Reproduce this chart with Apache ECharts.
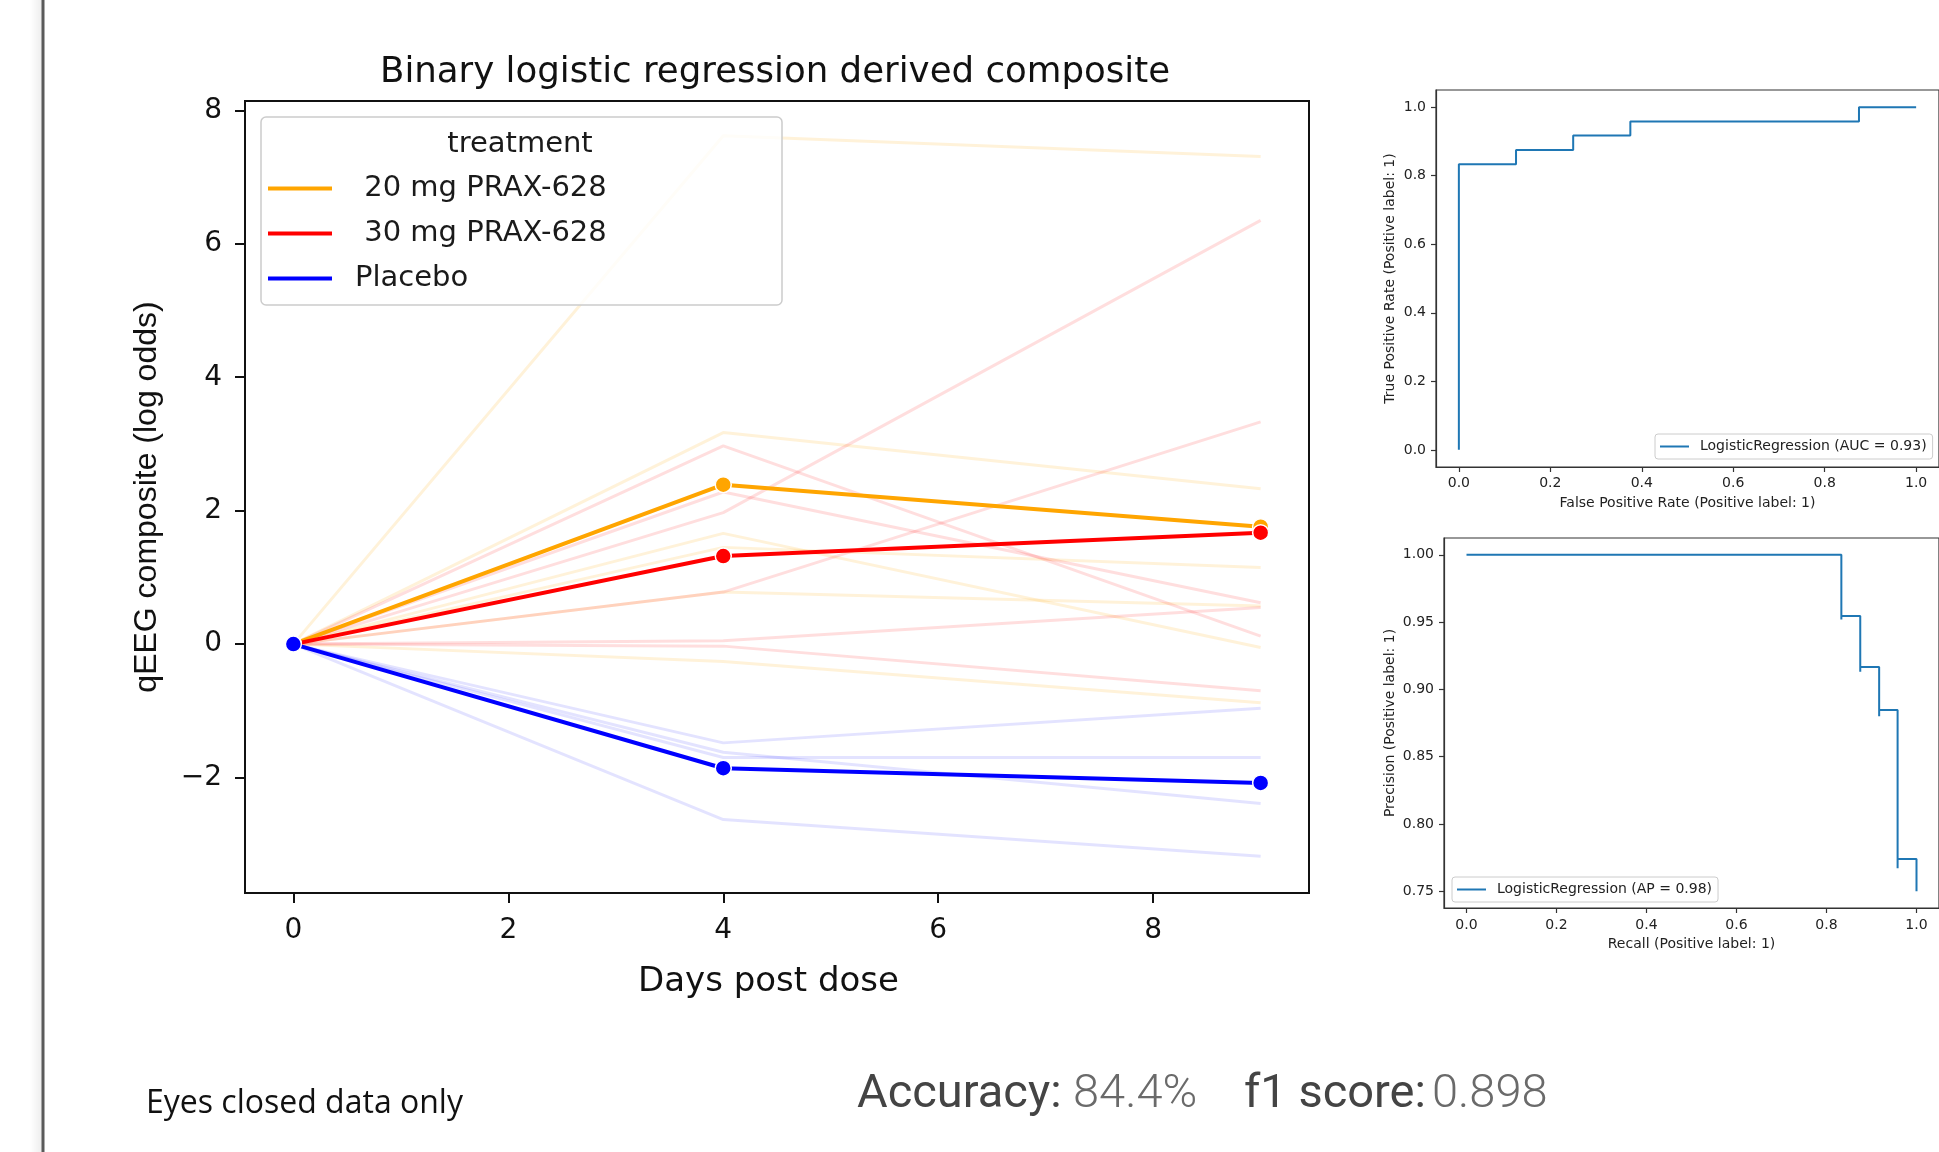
<!DOCTYPE html>
<html><head><meta charset="utf-8">
<script src="https://cdn.jsdelivr.net/npm/echarts@6/dist/echarts.min.js"></script>
<style>html,body{margin:0;padding:0;background:#fff}#c{width:1939px;height:1152px}</style>
</head><body><div id="c"></div>
<script>
// ---- data ----
const days = [0, 4, 9];
const xTicks = [0, 2, 4, 6, 8];
const yTicks = [-2, 0, 2, 4, 6, 8];
const groupNames = [' 20 mg PRAX-628', ' 30 mg PRAX-628', 'Placebo'];
const mean20 = [0, 2.39, 1.76];
const mean30 = [0, 1.32, 1.67];
const meanPlacebo = [0, -1.86, -2.08];
const subj20 = [[0, 7.62, 7.31], [0, 3.17, 2.33], [0, 1.66, -0.05], [0, 1.45, 1.15], [0, 0.78, 0.57], [0, -0.26, -0.88]];
const subj30 = [[0, 2.97, 0.12], [0, 2.28, 0.62], [0, 1.97, 6.35], [0, 0.78, 3.33], [0, 0.05, 0.55], [0, -0.03, -0.70]];
const subjPlacebo = [[0, -1.48, -0.96], [0, -1.70, -1.70], [0, -1.62, -2.39], [0, -2.63, -3.18]];

const rocTicks = [0, 0.2, 0.4, 0.6, 0.8, 1.0];
const rocFpr = [0, 0, 0.125, 0.125, 0.25, 0.25, 0.375, 0.375, 0.875, 0.875, 1.0];
const rocTpr = [0, 0.833, 0.833, 0.875, 0.875, 0.917, 0.917, 0.958, 0.958, 1.0, 1.0];
const rocName = 'LogisticRegression (AUC = 0.93)';

const prYTicks = [0.75, 0.80, 0.85, 0.90, 0.95, 1.00];
const prRecall = [0, 0.833, 0.833, 0.833, 0.875, 0.875, 0.875, 0.917, 0.917, 0.917, 0.958, 0.958, 0.958, 1.0, 1.0];
const prPrecision = [1.0, 1.0, 0.952, 0.9545, 0.9545, 0.913, 0.9167, 0.9167, 0.88, 0.8846, 0.8846, 0.767, 0.774, 0.774, 0.75];
const prName = 'LogisticRegression (AP = 0.98)';

// ---- chart ----
const chart = echarts.init(document.getElementById('c'), null, {renderer: 'canvas'});
const pairs = (xs, ys) => xs.map((x, i) => [x, ys[i]]);
const minus = v => (v < 0 ? '\u2212' + Math.abs(v) : String(v));
const FONT = 'DejaVu Sans';

const series = [];
function addSubjects(list, color, tag) {
  list.forEach((vals, i) => series.push({
    name: tag + ' subject ' + (i + 1), type: 'line', xAxisIndex: 0, yAxisIndex: 0,
    data: pairs(days, vals), symbol: 'none', silent: true, z: 1,
    lineStyle: {color: color, width: 3}, itemStyle: {color: color}
  }));
}
addSubjects(subj20, 'rgba(255,165,0,0.15)', '20mg');
addSubjects(subj30, 'rgba(255,0,0,0.13)', '30mg');
addSubjects(subjPlacebo, 'rgba(0,0,255,0.11)', 'pbo');

function addMean(name, vals, color, z) {
  series.push({
    name: name, type: 'line', xAxisIndex: 0, yAxisIndex: 0, data: pairs(days, vals),
    color: color, z: z, symbol: 'circle', symbolSize: 16, showSymbol: true,
    lineStyle: {color: color, width: 4},
    itemStyle: {color: color, borderColor: '#ffffff', borderWidth: 1.5}
  });
}
addMean(groupNames[0], mean20, '#FFA500', 3);
addMean(groupNames[1], mean30, '#FF0000', 4);
addMean(groupNames[2], meanPlacebo, '#0000FF', 5);

series.push({name: rocName, type: 'line', xAxisIndex: 1, yAxisIndex: 1, data: pairs(rocFpr, rocTpr),
  symbol: 'none', color: '#1f77b4', lineStyle: {color: '#1f77b4', width: 2}});
series.push({name: prName, type: 'line', xAxisIndex: 2, yAxisIndex: 2, data: pairs(prRecall, prPrecision),
  symbol: 'none', color: '#1f77b4', lineStyle: {color: '#1f77b4', width: 2}});

function smallX(idx, name, nameGap, margin) {
  return {gridIndex: idx, type: 'value', min: -0.05, max: 1.05,
    axisLine: {show: true, onZero: false, lineStyle: {color: '#333', width: 1.2}},
    axisTick: {show: true, length: 5, customValues: rocTicks, lineStyle: {color: '#333', width: 1.2}},
    axisLabel: {customValues: rocTicks, formatter: v => v.toFixed(1), margin: margin, fontSize: 14, fontFamily: FONT, color: '#222'},
    splitLine: {show: false}, name: name, nameLocation: 'middle', nameGap: nameGap,
    nameTextStyle: {fontSize: 14, fontFamily: FONT, color: '#222'}};
}
function smallY(idx, min, max, ticks, dec, name, nameGap) {
  return {gridIndex: idx, type: 'value', min: min, max: max,
    axisLine: {show: true, onZero: false, lineStyle: {color: '#333', width: 1.2}},
    axisTick: {show: true, length: 5, customValues: ticks, lineStyle: {color: '#333', width: 1.2}},
    axisLabel: {customValues: ticks, formatter: v => v.toFixed(dec), margin: 10, fontSize: 14, fontFamily: FONT, color: '#222'},
    splitLine: {show: false}, name: name, nameLocation: 'middle', nameGap: nameGap,
    nameTextStyle: {fontSize: 14, fontFamily: FONT, color: '#222'}};
}

const option = {
  animation: false,
  backgroundColor: '#ffffff',
  title: {
    text: 'Binary logistic regression derived composite', left: 775, top: 55, padding: 0,
    textAlign: 'center',
    textStyle: {fontSize: 35.6, fontWeight: 'normal', fontFamily: FONT, color: '#111'}
  },
  grid: [
    {left: 245, top: 101, width: 1064, height: 792, show: true, borderColor: '#111', borderWidth: 2, backgroundColor: 'transparent'},
    {left: 1436, top: 90, width: 506, height: 377, show: true, borderColor: '#333', borderWidth: 1.2, backgroundColor: 'transparent'},
    {left: 1444, top: 538, width: 497, height: 370, show: true, borderColor: '#333', borderWidth: 1.2, backgroundColor: 'transparent'}
  ],
  xAxis: [
    {gridIndex: 0, type: 'value', min: -0.45, max: 9.45,
      axisLine: {show: true, onZero: false, lineStyle: {color: '#111', width: 2}},
      axisTick: {show: true, length: 10, customValues: xTicks, lineStyle: {color: '#111', width: 2}},
      axisLabel: {customValues: xTicks, margin: 24, fontSize: 28, fontFamily: FONT, color: '#111'},
      splitLine: {show: false}, name: 'Days post dose', nameLocation: 'middle', nameGap: 72,
      nameTextStyle: {fontSize: 34, fontFamily: FONT, color: '#111', padding: [0, 17, 0, 0]}},
    smallX(1, 'False Positive Rate (Positive label: 1)', 29, 9),
    smallX(2, 'Recall (Positive label: 1)', 29, 10)
  ],
  yAxis: [
    {gridIndex: 0, type: 'value', min: -3.73, max: 8.14,
      axisLine: {show: true, onZero: false, lineStyle: {color: '#111', width: 2}},
      axisTick: {show: true, length: 10, customValues: yTicks, lineStyle: {color: '#111', width: 2}},
      axisLabel: {customValues: yTicks, formatter: minus, margin: 23, fontSize: 28, fontFamily: FONT, color: '#111', padding: [5, 0, 0, 0]},
      splitLine: {show: false}, name: 'qEEG composite (log odds)', nameLocation: 'middle', nameGap: 82,
      nameTextStyle: {fontSize: 32, fontFamily: 'Liberation Sans', color: '#111'}},
    smallY(1, -0.05, 1.05, rocTicks, 1, 'True Positive Rate (Positive label: 1)', 39),
    smallY(2, 0.7375, 1.0125, prYTicks, 2, 'Precision (Positive label: 1)', 47)
  ],
  legend: [
    {data: groupNames, orient: 'vertical', left: 268, top: 173.5, padding: 0, z: 10,
      icon: 'rect', itemWidth: 64, itemHeight: 4, itemGap: 15, selectedMode: false,
      itemStyle: {borderWidth: 0},
      textStyle: {fontSize: 29, lineHeight: 30, fontFamily: FONT, color: '#1a1a1a', padding: [0, 0, 0, 18]}},
    {data: [rocName], left: 1655, top: 434, padding: [5.5, 6, 5.5, 5], z: 10,
      icon: 'rect', itemWidth: 29, itemHeight: 2, selectedMode: false, itemStyle: {borderWidth: 0},
      backgroundColor: '#ffffff', borderColor: '#cccccc', borderWidth: 1, borderRadius: 3,
      textStyle: {fontSize: 14, lineHeight: 14, fontFamily: FONT, color: '#222', padding: [0, 0, 0, 6]}},
    {data: [prName], left: 1452, top: 877, padding: [5.5, 6, 5.5, 5], z: 10,
      icon: 'rect', itemWidth: 29, itemHeight: 2, selectedMode: false, itemStyle: {borderWidth: 0},
      backgroundColor: '#ffffff', borderColor: '#cccccc', borderWidth: 1, borderRadius: 3,
      textStyle: {fontSize: 14, lineHeight: 14, fontFamily: FONT, color: '#222', padding: [0, 0, 0, 6]}}
  ],
  graphic: [
    {type: 'rect', z: 6, shape: {x: 261, y: 117, width: 521, height: 188, r: 5},
      style: {fill: 'rgba(255,255,255,0.8)', stroke: '#cccccc', lineWidth: 1.5}},
    {type: 'text', z: 10, x: 520, y: 144.5,
      style: {text: 'treatment', font: '29px "DejaVu Sans"', fill: '#1a1a1a', textAlign: 'center', textVerticalAlign: 'middle'}},
    {type: 'rect', z: 1, shape: {x: 30, y: 0, width: 12, height: 1152},
      style: {fill: new echarts.graphic.LinearGradient(0, 0, 1, 0, [{offset: 0, color: 'rgba(0,0,0,0)'}, {offset: 1, color: 'rgba(0,0,0,0.07)'}])}},
    {type: 'line', z: 2, shape: {x1: 43, y1: 0, x2: 43, y2: 1152}, style: {stroke: '#5a5a5a', lineWidth: 3}},
    {type: 'text', z: 10, x: 146, y: 1103.5,
      style: {text: 'Eyes closed data only', font: '32px "Open Sans"', fill: '#111', textAlign: 'left', textVerticalAlign: 'middle'}},
    {type: 'text', z: 10, x: 857, y: 1095.5,
      style: {text: 'Accuracy:', font: '400 47px Roboto', fill: '#444', textAlign: 'left', textVerticalAlign: 'middle'}},
    {type: 'text', z: 10, x: 1073, y: 1095.5,
      style: {text: '84.4%', font: '300 47px Roboto', fill: '#6a6a6a', textAlign: 'left', textVerticalAlign: 'middle'}},
    {type: 'text', z: 10, x: 1244, y: 1095.5,
      style: {text: 'f1 score:', font: '400 47px Roboto', fill: '#444', textAlign: 'left', textVerticalAlign: 'middle'}},
    {type: 'text', z: 10, x: 1432, y: 1095.5,
      style: {text: '0.898', font: '300 47px Roboto', fill: '#6a6a6a', textAlign: 'left', textVerticalAlign: 'middle'}}
  ],
  series: series
};
chart.setOption(option);
</script>
</body></html>
